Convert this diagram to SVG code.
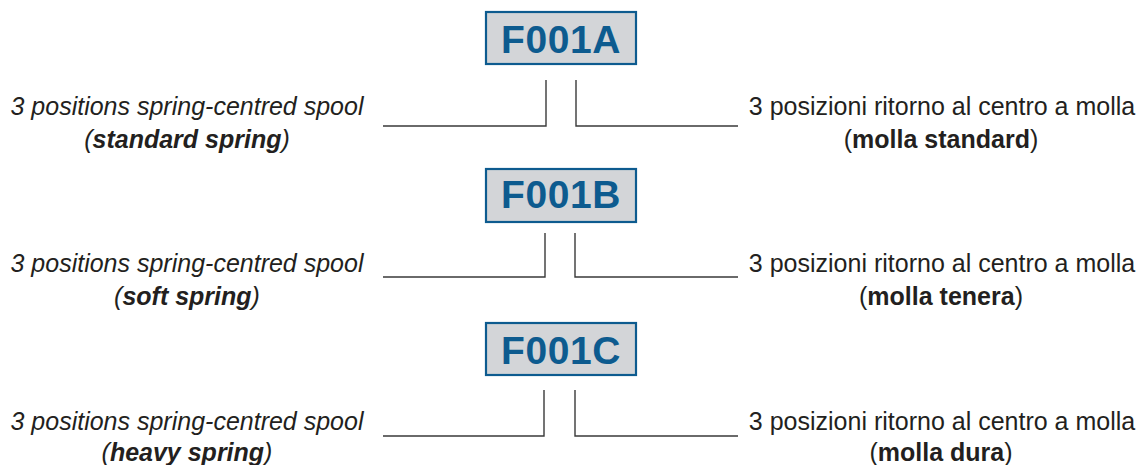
<svg xmlns="http://www.w3.org/2000/svg" width="1148" height="465" viewBox="0 0 1148 465">
<style>
.box{fill:#d3d5d8;stroke:#0d5b8f;stroke-width:2.2}
.code{font-family:"Liberation Sans",Arial,sans-serif;font-weight:bold;font-size:39px;fill:#0d5b8f;text-anchor:middle;letter-spacing:0.6px}
.en{font-family:"Liberation Sans",Arial,sans-serif;font-style:italic;font-size:25px;fill:#231f20;text-anchor:middle}
.it{font-family:"Liberation Sans",Arial,sans-serif;font-size:25px;fill:#231f20;text-anchor:middle}
.b{font-weight:bold}
.conn{fill:none;stroke:#3a3a3a;stroke-width:1.4}
</style>
<rect width="1148" height="465" fill="#ffffff"/>
<g id="nodeA">
<rect class="box" x="486" y="12" width="150" height="52"/>
<text class="code" x="561" y="53">F001A</text>
</g>
<g id="nodeB">
<rect class="box" x="486" y="169" width="150" height="53"/>
<text class="code" x="561" y="208">F001B</text>
</g>
<g id="nodeC">
<rect class="box" x="486" y="323" width="150" height="52"/>
<text class="code" x="561" y="364">F001C</text>
</g>
<g id="labelsA">
<text class="en" x="187" y="115">3 positions spring-centred spool</text>
<text class="en" x="187" y="148">(<tspan class="b">standard spring</tspan>)</text>
<text class="it" x="942" y="115">3 posizioni ritorno al centro a molla</text>
<text class="it" x="941" y="148">(<tspan class="b">molla standard</tspan>)</text>
</g>
<g id="labelsB">
<text class="en" x="187" y="272">3 positions spring-centred spool</text>
<text class="en" x="187" y="305">(<tspan class="b">soft spring</tspan>)</text>
<text class="it" x="942" y="272">3 posizioni ritorno al centro a molla</text>
<text class="it" x="941" y="305">(<tspan class="b">molla tenera</tspan>)</text>
</g>
<g id="labelsC">
<text class="en" x="187" y="430">3 positions spring-centred spool</text>
<text class="en" x="187" y="461">(<tspan class="b">heavy spring</tspan>)</text>
<text class="it" x="942" y="430">3 posizioni ritorno al centro a molla</text>
<text class="it" x="941" y="461">(<tspan class="b">molla dura</tspan>)</text>
</g>
<g id="connectors">
<polyline class="conn" points="546,80 546,126 383,126"/>
<polyline class="conn" points="576,80 576,126 738,126"/>
<polyline class="conn" points="545,233 545,277 383,277"/>
<polyline class="conn" points="575,233 575,277 738,277"/>
<polyline class="conn" points="544,390 544,436 383,436"/>
<polyline class="conn" points="575,390 575,436 738,436"/>
</g>
</svg>
